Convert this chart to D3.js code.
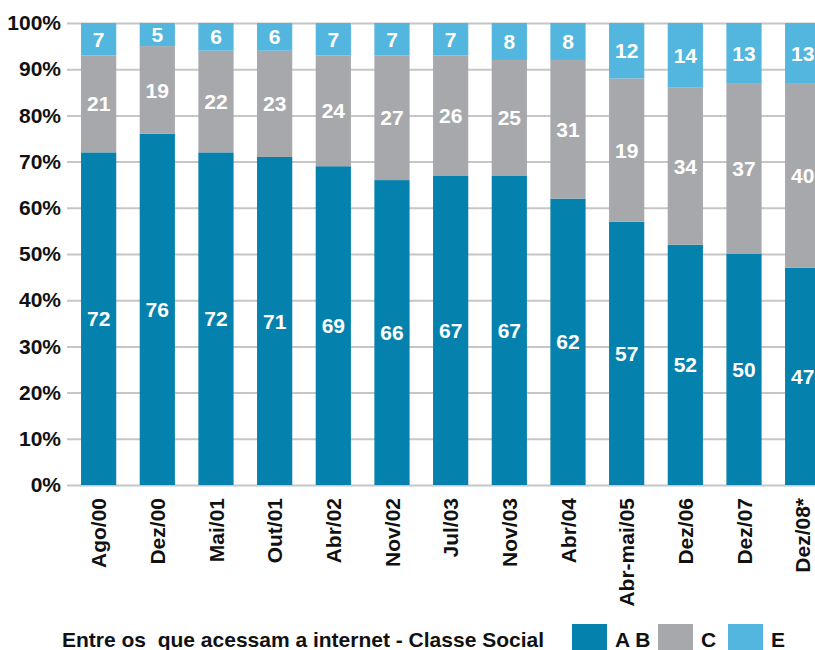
<!DOCTYPE html>
<html>
<head>
<meta charset="utf-8">
<script src="https://cdn.jsdelivr.net/npm/d3@7"></script>
<style>
  body { margin: 0; background: #fff; }
  svg { display: block; font-family: "Liberation Sans", Arial, sans-serif; font-weight: bold; }
</style>
</head>
<body>
<svg id="chart" width="815" height="650"></svg>
<script>
// dados (rótulos do gráfico original)
const periodos = ["Ago/00", "Dez/00", "Mai/01", "Out/01", "Abr/02", "Nov/02", "Jul/03", "Nov/03", "Abr/04", "Abr-mai/05", "Dez/06", "Dez/07", "Dez/08*"];
const classeAB = [72, 76, 72, 71, 69, 66, 67, 67, 62, 57, 52, 50, 47];
const classeC  = [21, 19, 22, 23, 24, 27, 26, 25, 31, 19, 34, 37, 40];
const classeE  = [7, 5, 6, 6, 7, 7, 7, 8, 8, 12, 14, 13, 13];
const yTicks = [0, 10, 20, 30, 40, 50, 60, 70, 80, 90, 100];
const legenda = ["A B", "C", "E"];
const titulo = "Entre os  que acessam a internet - Classe Social";

const cores = { ab: "#0581ad", c: "#a7a8ab", e: "#52b6de" };
const fs = 21;

const svg = d3.select("#chart");
const mEsq = 67, mDir = 815, mTopo = 23, mBase = 485;

const x = d3.scaleBand()
  .domain(periodos)
  .range([69.3, 832])
  .paddingInner(0.4)
  .paddingOuter(0.2);

const y = d3.scaleLinear().domain([0, 100]).range([mBase, mTopo]);

// grade + eixo y
const gy = svg.append("g")
  .attr("transform", "translate(" + mEsq + ",0)")
  .call(d3.axisLeft(y).tickValues(yTicks).tickSize(-(mDir - mEsq)).tickPadding(6).tickFormat(d => d + "%"));
gy.select(".domain").remove();
gy.selectAll("line").attr("stroke", "#c6c6c6").attr("stroke-width", 2);
gy.selectAll("text").attr("fill", "#111").attr("font-size", fs).attr("font-weight", "bold")
  .attr("font-family", "'Liberation Sans', Arial, sans-serif");

// barras: AB na base, E no topo, C preenche o meio
const linhas = periodos.map((p, i) => ({ p: p, ab: classeAB[i], c: classeC[i], e: classeE[i] }));

const barra = svg.append("g").selectAll("g").data(linhas).join("g");

barra.append("rect")
  .attr("x", d => x(d.p)).attr("width", x.bandwidth())
  .attr("y", d => y(d.ab)).attr("height", d => y(0) - y(d.ab))
  .attr("fill", cores.ab);

barra.append("rect")
  .attr("x", d => x(d.p)).attr("width", x.bandwidth())
  .attr("y", d => y(100 - d.e)).attr("height", d => y(d.ab) - y(100 - d.e))
  .attr("fill", cores.c);

barra.append("rect")
  .attr("x", d => x(d.p)).attr("width", x.bandwidth())
  .attr("y", d => y(100)).attr("height", d => y(100 - d.e) - y(100))
  .attr("fill", cores.e);

// rótulos dentro das barras
function rotulo(sel, val, meio) {
  sel.append("text")
    .attr("x", d => x(d.p) + x.bandwidth() / 2)
    .attr("y", d => y(meio(d)))
    .attr("dy", "0.36em")
    .attr("text-anchor", "middle")
    .attr("fill", "#fff")
    .attr("font-size", fs)
    .text(val);
}
rotulo(barra, d => d.ab, d => d.ab / 2);
rotulo(barra, d => d.c, d => (d.ab + 100 - d.e) / 2);
rotulo(barra, d => d.e, d => 100 - d.e / 2);

// eixo x
svg.append("g").selectAll("text").data(periodos).join("text")
  .attr("transform", d => "translate(" + (x(d) + x.bandwidth() / 2) + ",498) rotate(-90)")
  .attr("dy", "0.36em")
  .attr("text-anchor", "end")
  .attr("fill", "#111")
  .attr("font-size", fs)
  .text(d => d);

// legenda
svg.append("text")
  .attr("x", 62).attr("y", 647)
  .attr("fill", "#111")
  .attr("font-size", fs)
  .style("white-space", "pre")
  .text(titulo);

const legX = [572, 658, 728];
const legCores = [cores.ab, cores.c, cores.e];
const leg = svg.append("g").selectAll("g").data(legenda).join("g");
leg.append("rect")
  .attr("x", (d, i) => legX[i]).attr("y", 624)
  .attr("width", 35).attr("height", 28)
  .attr("fill", (d, i) => legCores[i]);
leg.append("text")
  .attr("x", (d, i) => legX[i] + 43).attr("y", 647)
  .attr("fill", "#111")
  .attr("font-size", fs)
  .text(d => d);
</script>
</body>
</html>
